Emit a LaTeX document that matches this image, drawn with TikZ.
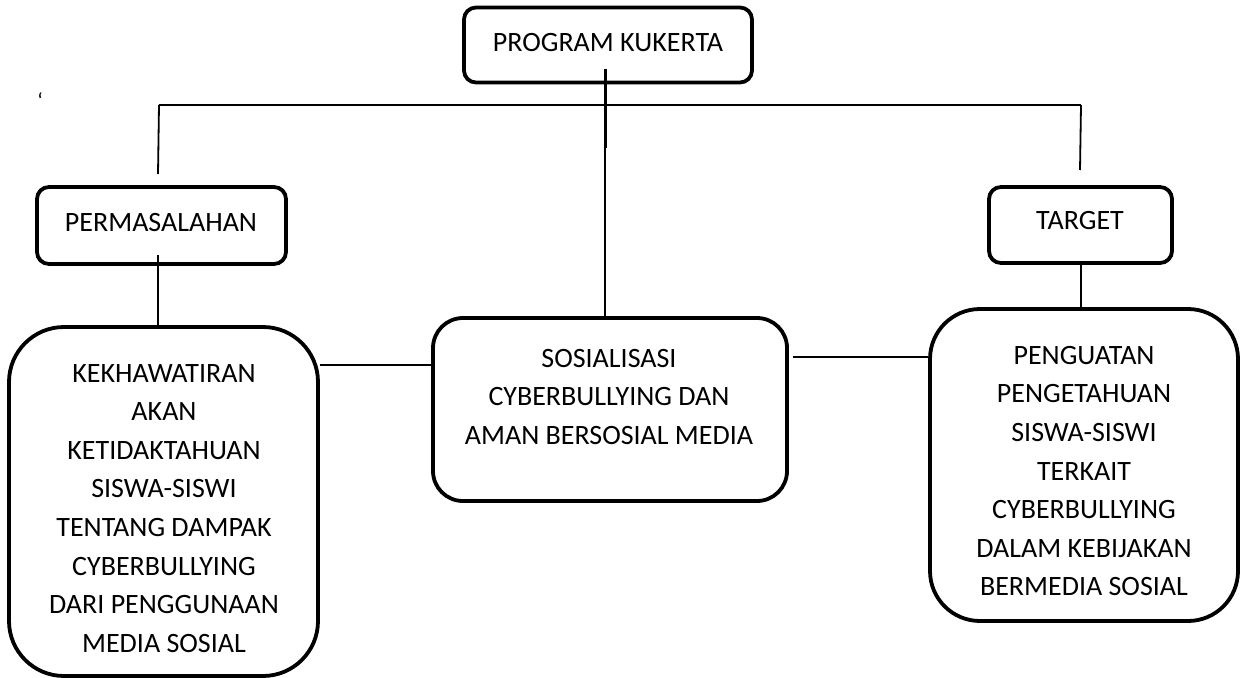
\documentclass[tikz,border=0pt]{standalone}
\usepackage{fontspec}
\setmainfont{Carlito}
\begin{document}
\begin{tikzpicture}[x=1pt,y=-1pt,
  box/.style={draw,line width=3.8pt,rounded corners=#1,inner sep=0pt},
  box/.default=12pt,
  txt/.style={align=center,anchor=north,inner sep=0pt,font=\fontsize{28}{38.6}\selectfont},
  conn/.style={line width=1.8pt}]
\useasboundingbox[fill=white] (0,0) rectangle (1241,677);
% boxes
\node[box,minimum width=288pt,minimum height=75pt] (top) at (608,45) {};
\node[box,minimum width=249pt,minimum height=77pt] (perm) at (161.5,225.5) {};
\node[box,minimum width=183pt,minimum height=76pt] (targ) at (1080.5,225) {};
\node[box=55pt,minimum width=309pt,minimum height=349pt] (lbox) at (163.5,501.5) {};
\node[box=30pt,minimum width=354pt,minimum height=183pt] (cbox) at (610,409.5) {};
\node[box=50pt,minimum width=308pt,minimum height=312pt] (rbox) at (1084,465) {};
% texts
\node[txt] (ttop) at (608,33) {PROGRAM KUKERTA};
\node[txt] (tperm) at (161,213) {PERMASALAHAN};
\node[txt] (ttarg) at (1080,211) {TARGET};
\node[txt] (tl) at (164,364) {KEKHAWATIRAN\\AKAN\\KETIDAKTAHUAN\\SISWA-SISWI\\TENTANG DAMPAK\\CYBERBULLYING\\DARI PENGGUNAAN\\MEDIA SOSIAL};
\node[txt] (tc) at (609,349) {SOSIALISASI\\CYBERBULLYING DAN\\AMAN BERSOSIAL MEDIA};
\node[txt] (tr) at (1084,346) {PENGUATAN\\PENGETAHUAN\\SISWA-SISWI\\TERKAIT\\CYBERBULLYING\\DALAM KEBIJAKAN\\BERMEDIA SOSIAL};
\node[inner sep=0pt,font=\fontsize{22}{24}\selectfont] (tick) at (40,101) {\symbol{96}};
% coordinates
\coordinate (ts) at (605,69);
\coordinate (tm) at (605,148);
\coordinate (hl) at (159,105);
\coordinate (hr) at (1081,105);
\coordinate (pl) at (158,174);
\coordinate (pr) at (1080,170);
\coordinate (ps) at (158,255);
\coordinate (cr) at (793,357);
% connectors
\draw[conn] (ts) -- (ts |- cbox.north);
\draw[line width=3pt] (ts) -- (tm);
\draw[conn] (hl) -- (hr);
\draw[conn] (hl) -- (pl);
\draw[conn] (hr) -- (pr);
\draw[conn] (ps) -- (ps |- lbox.north);
\draw[conn] (targ.south -| hr) -- (hr |- rbox.north);
\draw[conn] (lbox.east |- 0,365) -- (cbox.west |- 0,365);
\draw[conn] (cr) -- (cr -| rbox.west);
\end{tikzpicture}
\end{document}
